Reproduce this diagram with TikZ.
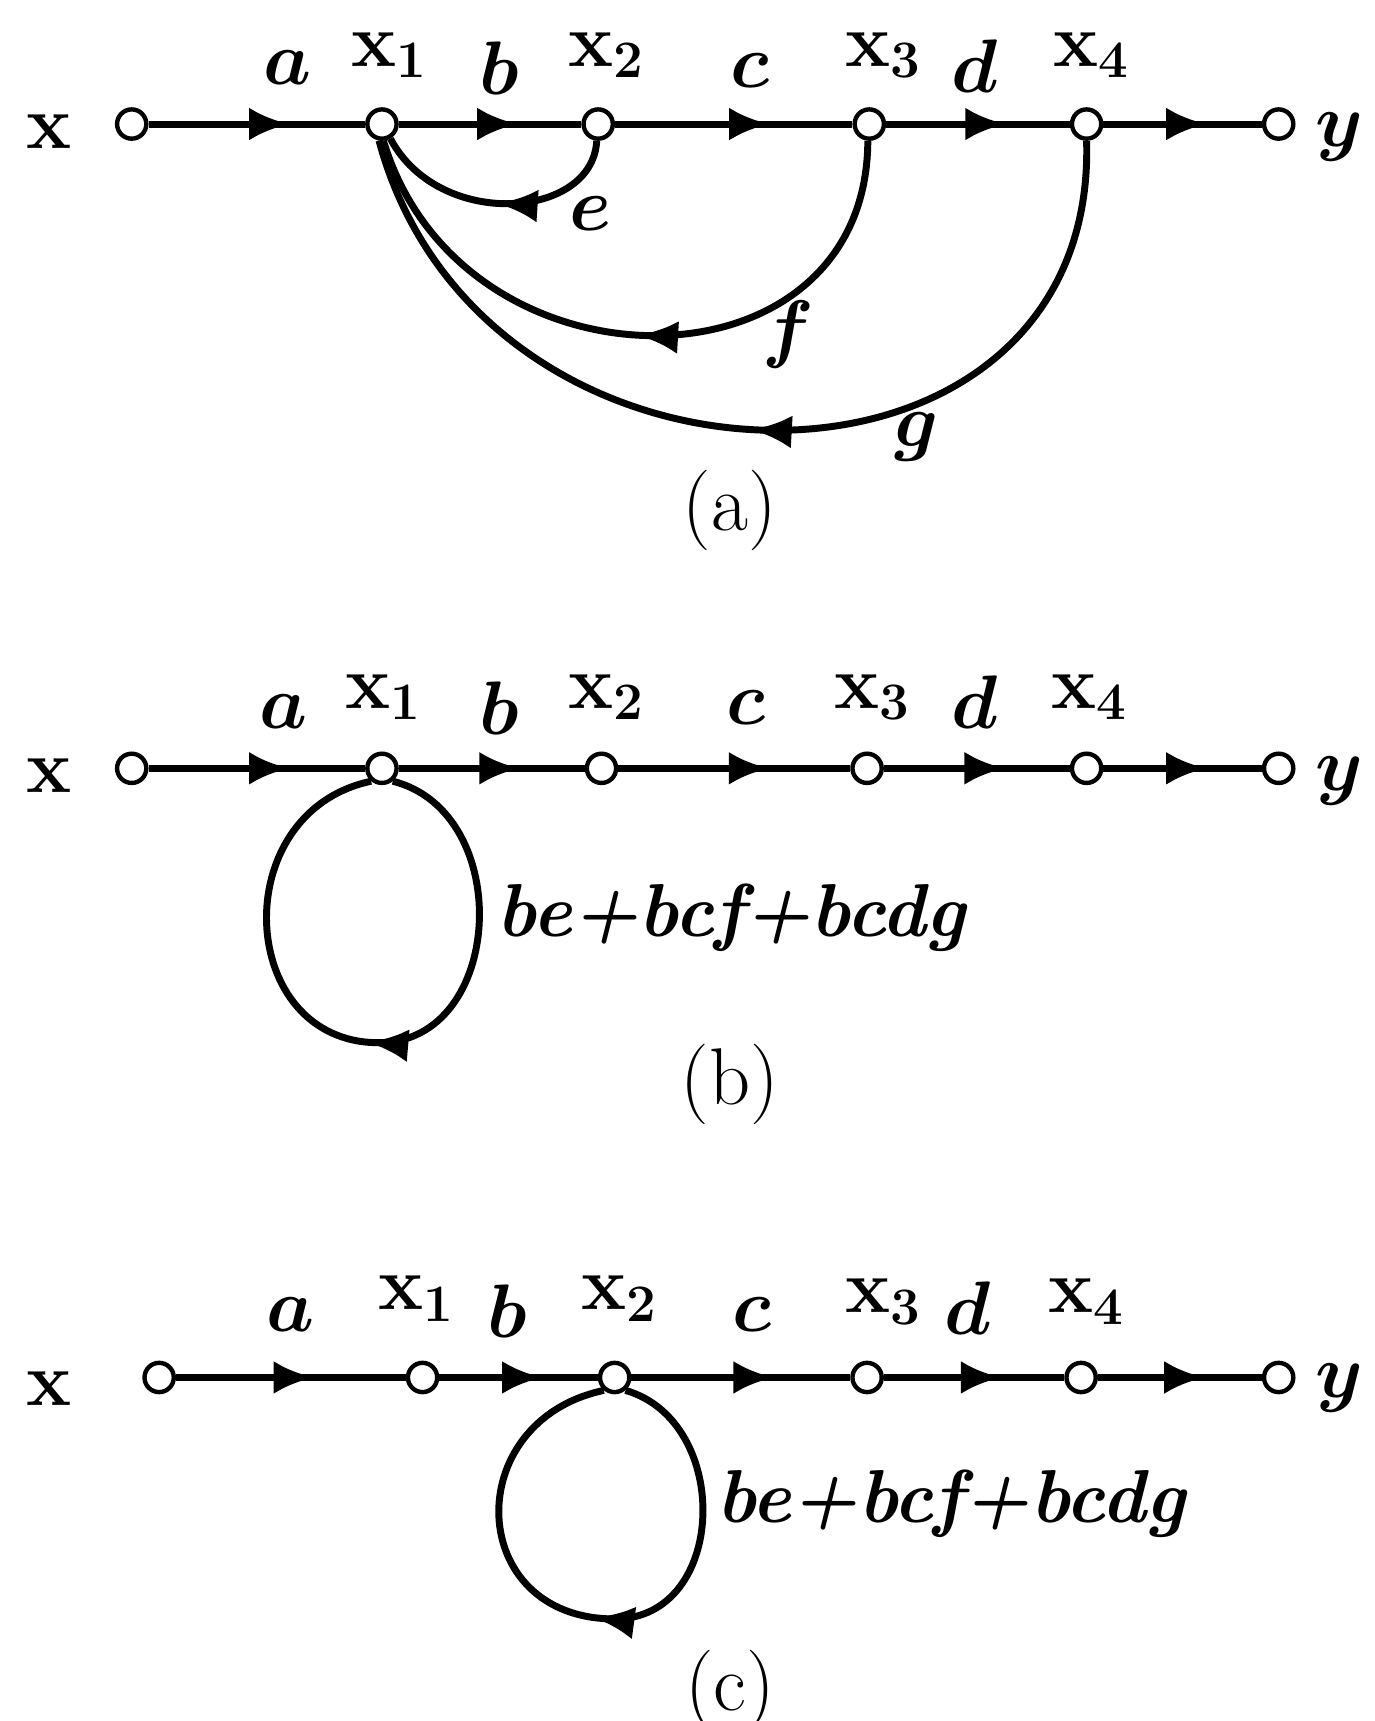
\documentclass[tikz,border=0pt]{standalone}
\usetikzlibrary{arrows.meta,decorations.markings}
\begin{document}
\begin{tikzpicture}[x=0.3pt,y=-0.3pt,
  sig/.style={circle,draw,line width=1.2pt,fill=white,inner sep=0pt,minimum size=8pt},
  lbl/.style={inner sep=0pt,font=\fontsize{22}{26}\selectfont\boldmath},
  looplbl/.style={inner sep=0pt,font=\fontsize{20.5}{24}\selectfont\bfseries\itshape},
  captext/.style={inner sep=0pt,font=\fontsize{22}{26}\selectfont},
  br/.style={line width=1.9pt},
  midarrow/.style={decoration={markings,mark=at position #1 with {\arrow{Latex[length=11pt,width=9pt]}}},postaction={decorate}},
  midarrow/.default=0.65]
\useasboundingbox (0,0) rectangle (1252,1568);

% ---------------- (a) ----------------
\node[sig] (ax)  at (120,113) {};
\node[sig] (ax1) at (348,113) {};
\node[sig] (ax2) at (545,113) {};
\node[sig] (ax3) at (792,113) {};
\node[sig] (ax4) at (990,113) {};
\node[sig] (ay)  at (1165,113) {};
\draw[br,midarrow] (ax) -- (ax1);
\draw[br,midarrow] (ax1) -- (ax2);
\draw[br,midarrow] (ax2) -- (ax3);
\draw[br,midarrow] (ax3) -- (ax4);
\draw[br,midarrow] (ax4) -- (ay);
\draw[br,midarrow=0.5] (ax2.-95) .. controls (540,200) and (400,210) .. (ax1.-60);
\draw[br,midarrow=0.5] (ax3.-95) .. controls (790,365) and (420,365) .. (ax1.-85);
\draw[br,midarrow=0.5] (ax4.-90) .. controls (1000,480) and (440,480) .. (ax1.-100);
\node[lbl] (lax)  at (45,120) {$\mathbf{x}$};
\node[lbl] (lay)  at (1220,125) {$y$};
\node[lbl] (la)   at (262,62) {$a$};
\node[lbl] (lax1) at (355,50) {$\mathbf{x}_1$};
\node[lbl] (lb)   at (455,62) {$b$};
\node[lbl] (lax2) at (553,50) {$\mathbf{x}_2$};
\node[lbl] (lc)   at (683,64) {$c$};
\node[lbl] (lax3) at (805,50) {$\mathbf{x}_3$};
\node[lbl] (ld)   at (888,60) {$d$};
\node[lbl] (lax4) at (995,50) {$\mathbf{x}_4$};
\node[lbl] (le)   at (538,195) {$e$};
\node[lbl] (lf)   at (718,305) {$f$};
\node[lbl] (lg)   at (835,398) {$g$};
\node[captext] (capa) at (665,465) {(a)};

% ---------------- (b) ----------------
\node[sig] (bx)  at (120,700) {};
\node[sig] (bx1) at (348,700) {};
\node[sig] (bx2) at (548,700) {};
\node[sig] (bx3) at (790,700) {};
\node[sig] (bx4) at (990,700) {};
\node[sig] (by)  at (1165,700) {};
\draw[br,midarrow] (bx) -- (bx1);
\draw[br,midarrow] (bx1) -- (bx2);
\draw[br,midarrow] (bx2) -- (bx3);
\draw[br,midarrow] (bx3) -- (bx4);
\draw[br,midarrow] (bx4) -- (by);
\coordinate (bbot) at (345,950);
\draw[br,midarrow=0.5] (bx1.-50) .. controls (470,740) and (460,950) .. (bbot)
   .. controls (215,950) and (205,740) .. (bx1.-130);
\node[lbl] (lbx)  at (45,707) {$\mathbf{x}$};
\node[lbl] (lby)  at (1220,712) {$y$};
\node[lbl] (lba)  at (258,648) {$a$};
\node[lbl] (lbx1) at (350,635) {$\mathbf{x}_1$};
\node[lbl] (lbb)  at (455,645) {$b$};
\node[lbl] (lbx2) at (553,635) {$\mathbf{x}_2$};
\node[lbl] (lbc)  at (680,645) {$c$};
\node[lbl] (lbx3) at (795,635) {$\mathbf{x}_3$};
\node[lbl] (lbd)  at (888,640) {$d$};
\node[lbl] (lbx4) at (993,635) {$\mathbf{x}_4$};
\node[looplbl,anchor=west] (lbloop) at (452,836) {be+bcf+bcdg};
\node[captext] (capb) at (665,988) {(b)};

% ---------------- (c) ----------------
\node[sig] (cx)  at (145,1255) {};
\node[sig] (cx1) at (385,1255) {};
\node[sig] (cx2) at (560,1255) {};
\node[sig] (cx3) at (790,1255) {};
\node[sig] (cx4) at (985,1255) {};
\node[sig] (cy)  at (1165,1255) {};
\draw[br,midarrow=0.6] (cx) -- (cx1);
\draw[br,midarrow] (cx1) -- (cx2);
\draw[br,midarrow] (cx2) -- (cx3);
\draw[br,midarrow] (cx3) -- (cx4);
\draw[br,midarrow] (cx4) -- (cy);
\coordinate (cbot) at (560,1475);
\draw[br,midarrow=0.5] (cx2.-50) .. controls (668,1295) and (663,1475) .. (cbot)
   .. controls (424,1475) and (418,1295) .. (cx2.-130);
\node[lbl] (lcx)  at (45,1265) {$\mathbf{x}$};
\node[lbl] (lcy)  at (1220,1265) {$y$};
\node[lbl] (lca)  at (265,1198) {$a$};
\node[lbl] (lcx1) at (380,1183) {$\mathbf{x}_1$};
\node[lbl] (lcb)  at (462,1195) {$b$};
\node[lbl] (lcx2) at (565,1183) {$\mathbf{x}_2$};
\node[lbl] (lcc)  at (685,1198) {$c$};
\node[lbl] (lcx3) at (805,1186) {$\mathbf{x}_3$};
\node[lbl] (lcd)  at (882,1192) {$d$};
\node[lbl] (lcx4) at (990,1186) {$\mathbf{x}_4$};
\node[looplbl,anchor=west] (lcloop) at (652,1370) {be+bcf+bcdg};
\node[captext] (capc) at (665,1540) {(c)};
\end{tikzpicture}
\end{document}
